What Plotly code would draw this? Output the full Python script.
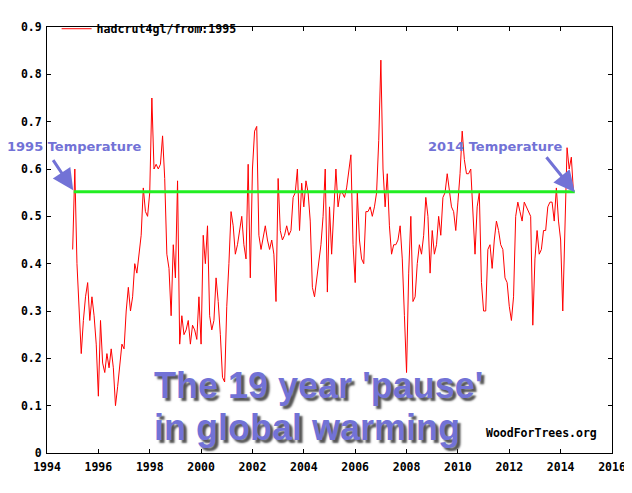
#!/usr/bin/env python3

import plotly.graph_objects as go

# HadCRUT4 global monthly anomaly, Jan 1995 onwards
start_year = 1995
anomaly = [
    # 1995
    0.43, 0.60, 0.40, 0.31, 0.21, 0.28, 0.33, 0.36, 0.28, 0.33, 0.29, 0.23,
    # 1996
    0.12, 0.28, 0.19, 0.17, 0.21, 0.18, 0.22, 0.18, 0.10, 0.14, 0.19, 0.23,
    # 1997
    0.22, 0.30, 0.35, 0.30, 0.33, 0.40, 0.38, 0.42, 0.46, 0.56, 0.51, 0.50,
    # 1998
    0.55, 0.75, 0.60, 0.61, 0.60, 0.61, 0.67, 0.58, 0.42, 0.39, 0.29, 0.44,
    # 1999
    0.37, 0.575, 0.23, 0.29, 0.25, 0.26, 0.28, 0.23, 0.27, 0.26, 0.24, 0.33,
    # 2000
    0.23, 0.46, 0.40, 0.48, 0.29, 0.26, 0.28, 0.37, 0.32, 0.25, 0.16, 0.15,
    # 2001
    0.31, 0.40, 0.51, 0.48, 0.42, 0.44, 0.47, 0.50, 0.44, 0.41, 0.61, 0.37,
    # 2002
    0.60, 0.68, 0.69, 0.46, 0.43, 0.46, 0.48, 0.45, 0.43, 0.45, 0.42, 0.32,
    # 2003
    0.58, 0.47, 0.45, 0.46, 0.48, 0.46, 0.47, 0.54, 0.55, 0.60, 0.47, 0.57,
    # 2004
    0.52, 0.575, 0.55, 0.49, 0.35, 0.33, 0.37, 0.41, 0.44, 0.50, 0.60, 0.34,
    # 2005
    0.52, 0.42, 0.50, 0.60, 0.52, 0.55, 0.55, 0.54, 0.56, 0.59, 0.63, 0.44,
    # 2006
    0.36, 0.55, 0.45, 0.41, 0.40, 0.51, 0.51, 0.52, 0.50, 0.52, 0.55, 0.66,
    # 2007
    0.83, 0.60, 0.52, 0.59, 0.48, 0.42, 0.44, 0.44, 0.45, 0.48, 0.41, 0.29,
    # 2008
    0.17, 0.38, 0.50, 0.32, 0.33, 0.40, 0.44, 0.42, 0.46, 0.54, 0.50, 0.38,
    # 2009
    0.47, 0.42, 0.44, 0.50, 0.46, 0.54, 0.55, 0.59, 0.55, 0.52, 0.51, 0.47,
    # 2010
    0.53, 0.59, 0.68, 0.62, 0.59, 0.59, 0.60, 0.50, 0.42, 0.52, 0.55, 0.36,
    # 2011
    0.30, 0.30, 0.43, 0.44, 0.39, 0.45, 0.49, 0.47, 0.44, 0.43, 0.37, 0.36,
    # 2012
    0.31, 0.28, 0.33, 0.50, 0.53, 0.51, 0.49, 0.53, 0.52, 0.51, 0.50, 0.27,
    # 2013
    0.41, 0.47, 0.42, 0.43, 0.47, 0.47, 0.52, 0.53, 0.53, 0.49, 0.56, 0.49,
    # 2014
    0.45, 0.30, 0.47, 0.645, 0.60, 0.625, 0.55,
]
years = [start_year + i / 12 for i in range(len(anomaly))]

# flat "pause" line drawn between the 1995 and 2014 temperatures
pause_x = [1995.04, 2014.55]
pause_y = [0.552, 0.552]

x_ticks = list(range(1994, 2017, 2))
y_ticks = [0, 0.1, 0.2, 0.3, 0.4, 0.5, 0.6, 0.7, 0.8, 0.9]

blue = '#7272d6'
mono = 'DejaVu Sans Mono'

fig = go.Figure()
fig.add_trace(go.Scatter(
    x=years,
    y=anomaly,
    mode='lines',
    line=dict(color='#ff0000', width=1),
    name='<b>hadcrut4gl/from:1995</b>',
))
fig.add_trace(go.Scatter(
    x=pause_x,
    y=pause_y,
    mode='lines',
    line=dict(color='#22ee22', width=3),
    showlegend=False,
))

axis_common = dict(
    showline=True,
    linecolor='black',
    linewidth=1,
    mirror='ticks',
    ticks='inside',
    ticklen=4,
    tickcolor='black',
    showgrid=False,
    zeroline=False,
    tickfont=dict(family=mono, size=11.5, color='black'),
)

# the page body adds an 8px margin, so the figure is 8px smaller
fig.update_layout(
    width=624,
    height=485,
    margin=dict(l=39, r=17, t=6, b=40),
    paper_bgcolor='white',
    plot_bgcolor='white',
    xaxis=dict(range=[1994, 2016], tickvals=x_ticks, ticklabelstandoff=3,
               ticktext=['<b>%d</b>' % t for t in x_ticks], **axis_common),
    yaxis=dict(range=[0, 0.9], tickvals=y_ticks, ticklabelstandoff=2,
               ticktext=['<b>%g</b>' % t for t in y_ticks], **axis_common),
    legend=dict(x=0.017, y=1.03, xanchor='left', yanchor='top',
                bgcolor='rgba(0,0,0,0)',
                font=dict(family=mono, size=11.6, color='black')),
    showlegend=True,
)

label_font = dict(family='DejaVu Sans', size=13, color=blue)
big_font = dict(family='Liberation Sans', size=36, color=blue,
                shadow='3px 3px 2px #555555')

annotations = [
    dict(x=1995.04, y=0.648, text='<b>1995 Temperature</b>',
         showarrow=False, font=label_font),
    dict(x=2011.45, y=0.648, text='<b>2014 Temperature</b>',
         showarrow=False, font=label_font),
    dict(x=1995.02, y=0.555, ax=1994.2, ay=0.622, axref='x', ayref='y',
         text='', showarrow=True, arrowhead=2, arrowsize=1.4,
         arrowwidth=3, arrowcolor=blue),
    dict(x=2014.55, y=0.551, ax=2013.4, ay=0.628, axref='x', ayref='y',
         text='', showarrow=True, arrowhead=2, arrowsize=1.4,
         arrowwidth=3, arrowcolor=blue),
    dict(x=1998.1, y=0.143, xanchor='left', text="<b>The 19 year 'pause'</b>",
         showarrow=False, font=big_font),
    dict(x=1998.1, y=0.053, xanchor='left', text='<b>in global warming</b>',
         showarrow=False, font=big_font),
    dict(x=2013.24, y=0.0425, text='<b>WoodForTrees.org</b>',
         showarrow=False, font=dict(family=mono, size=11.5, color='black')),
]
fig.update_layout(annotations=annotations)

fig.write_html('out.html')
